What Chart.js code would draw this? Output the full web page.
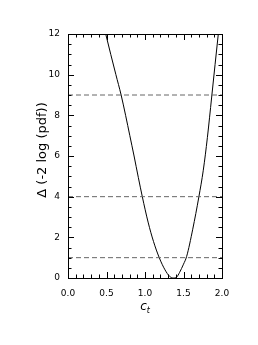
<!DOCTYPE html>
<html lang="en">
<head>
<meta charset="UTF-8">
<title>Delta (-2 log pdf) vs c_t</title>
<script src="https://cdn.jsdelivr.net/npm/chart.js"></script>
<style>
  body { margin: 0; padding: 0; background: #fff; }
  #wrap { width: 258px; height: 345px; }
</style>
</head>
<body>
<div id="wrap"><canvas id="chart" width="258" height="345"></canvas></div>
<script>
// values
const ctValues    = [0.49, 0.555, 0.622, 0.69, 0.748, 0.803, 0.858, 0.913, 0.965, 1.04, 1.11, 1.185, 1.26, 1.32, 1.37, 1.41, 1.45, 1.50, 1.54, 1.62, 1.70, 1.757, 1.81, 1.866, 1.91, 1.952];
const deltaValues = [12.0, 11.0,  10.0,  9.0,  8.0,   7.0,   6.0,   4.95,  4.0,   2.75, 1.8,  1.0,   0.4,  0.08, 0.0,  0.04, 0.28, 0.68, 1.05, 2.4,  4.0,  5.3,   6.9,  8.9,   10.5, 12.0];
const levelLines  = [1, 4, 9];
const xMinorStep = 0.1;
const yMinorStep = 0.5;

const curve = ctValues.map((c, i) => ({ x: c, y: deltaValues[i] }));

const datasets = levelLines.map(lv => ({
    data: [{ x: 0, y: lv }, { x: 2, y: lv }],
    borderColor: '#666',
    borderWidth: 1,
    borderDash: [5, 3],
    pointRadius: 0
}));
datasets.push({
    data: curve,
    borderColor: '#000',
    borderWidth: 1,
    pointRadius: 0,
    cubicInterpolationMode: 'monotone'
});

// inward ticks on all four sides, the frame and the axis titles
const frameTicks = {
    id: 'frameTicks',
    afterDatasetsDraw(chart) {
        const { ctx, chartArea: a, scales: { x, y } } = chart;
        ctx.save();
        ctx.strokeStyle = '#000';
        ctx.lineWidth = 1;
        ctx.beginPath();
        for (let i = 0; i <= Math.round((x.max - x.min) / xMinorStep); i++) {
            const v = x.min + i * xMinorStep;
            const px = Math.round(x.getPixelForValue(v)) + 0.5;
            const len = (i % 5 === 0) ? 6 : 3.5;
            ctx.moveTo(px, a.bottom); ctx.lineTo(px, a.bottom - len);
            ctx.moveTo(px, a.top); ctx.lineTo(px, a.top + len);
        }
        for (let i = 0; i <= Math.round((y.max - y.min) / yMinorStep); i++) {
            const v = y.min + i * yMinorStep;
            const py = Math.round(y.getPixelForValue(v)) + 0.5;
            const len = (i % 4 === 0) ? 6 : 3.5;
            ctx.moveTo(a.left, py); ctx.lineTo(a.left + len, py);
            ctx.moveTo(a.right, py); ctx.lineTo(a.right - len, py);
        }
        ctx.stroke();
        ctx.strokeRect(Math.round(a.left) + 0.5, Math.round(a.top) + 0.5,
                       Math.round(a.right - a.left), Math.round(a.bottom - a.top));

        ctx.fillStyle = '#000';
        // y title
        ctx.save();
        ctx.translate(43, 150);
        ctx.rotate(-Math.PI / 2);
        ctx.font = '13px "DejaVu Sans"';
        ctx.textAlign = 'center';
        ctx.textBaseline = 'middle';
        ctx.fillText('\u0394 (-2 log (pdf))', 0, 0);
        ctx.restore();
        // x title: c with subscript t
        ctx.font = 'italic 12px "DejaVu Sans"';
        const wc = ctx.measureText('c').width;
        ctx.font = 'italic 8px "DejaVu Sans"';
        const wt = ctx.measureText('t').width;
        const cx = (a.left + a.right) / 2 - (wc + wt) / 2;
        ctx.textAlign = 'left';
        ctx.textBaseline = 'alphabetic';
        ctx.font = 'italic 12px "DejaVu Sans"';
        ctx.fillText('c', cx, 310);
        ctx.font = 'italic 8px "DejaVu Sans"';
        ctx.fillText('t', cx + wc, 313);
        ctx.restore();
    }
};

const tickFont = { family: 'DejaVu Sans', size: 9 };

new Chart(document.getElementById('chart'), {
    type: 'line',
    data: { datasets },
    options: {
        responsive: false,
        animation: false,
        devicePixelRatio: 1,
        layout: { padding: { top: 34, right: 36, left: 0, bottom: 0 } },
        plugins: { legend: { display: false }, tooltip: { enabled: false } },
        scales: {
            x: {
                type: 'linear',
                min: 0, max: 2,
                grid: { display: false, drawTicks: false },
                border: { display: false },
                ticks: { stepSize: 0.5, padding: 10, color: '#000', font: tickFont,
                         callback: v => v.toFixed(1) },
                afterFit: s => { s.height = 67; }
            },
            y: {
                min: 0, max: 12,
                grid: { display: false, drawTicks: false },
                border: { display: false },
                ticks: { stepSize: 2, padding: 8, color: '#000', font: tickFont },
                afterFit: s => { s.width = 68; }
            }
        }
    },
    plugins: [frameTicks]
});
</script>
</body>
</html>
